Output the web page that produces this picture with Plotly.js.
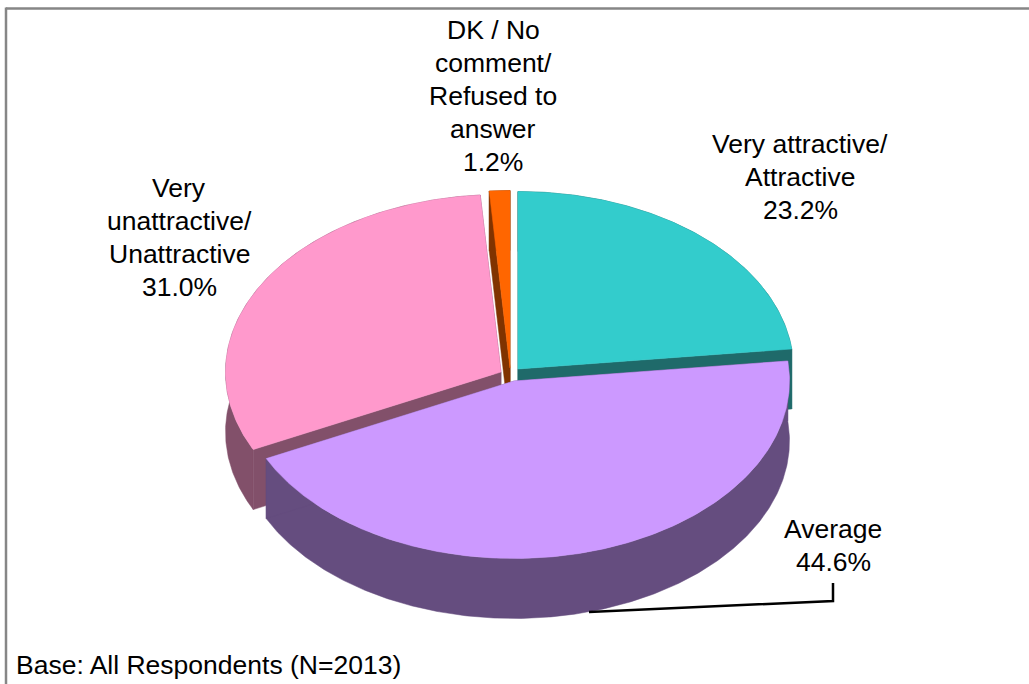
<!DOCTYPE html>
<html>
<head>
<meta charset="utf-8">
<script src="https://cdn.plot.ly/plotly-3.0.1.min.js"></script>
<style>html,body{margin:0;padding:0;background:#fff;overflow:hidden}#chart{width:1029px;height:684px}</style>
</head>
<body>
<div id="chart"></div>
<script>
// Data, clockwise from 12 o'clock
var categories = ['Very attractive/<br>Attractive', 'Average', 'Very<br>unattractive/<br>Unattractive', 'DK / No<br>comment/<br>Refused to<br>answer'];
var shares = [23.2, 44.6, 31.0, 1.2];
var footnote = 'Base: All Respondents (N=2013)';

// Styling
var faceColors = ['#33CCCC', '#CC99FF', '#FF99CC', '#FF6600'];
var wallColors = ['#1F6A6A', '#654D7F', '#82506A', '#803300'];
var FONT = {family: '"Liberation Sans", Arial, sans-serif', size: 26.5, color: '#000'};
var LINE_STEP = 33;

// Projection of the tilted pie, in the pixel-scaled hidden axes
var pie = {cx: 510, cy: 372, rx: 275.5, ry: 177.5, depth: 60};
var explode = [[8, -3], [4, 9], [-9, 0], [0, -4]];
var labelPos = [[800, 177], [833, 545], [179, 237.5], [493, 96]];

function rim(i, deg, dy) {
  var t = deg * Math.PI / 180;
  return [pie.cx + explode[i][0] + pie.rx * Math.sin(t),
          pie.cy + explode[i][1] - pie.ry * Math.cos(t) + (dy || 0)];
}
function apex(i, dy) { return [pie.cx + explode[i][0], pie.cy + explode[i][1] + (dy || 0)]; }
function arc(i, a, b, dy) {
  var out = [], n = Math.max(2, Math.ceil((b - a) * 2));
  for (var k = 0; k <= n; k++) out.push(rim(i, a + (b - a) * k / n, dy));
  return out;
}
function poly(pts, color) {
  return {
    type: 'scatter', mode: 'lines', fill: 'toself', fillcolor: color,
    x: pts.map(function (p) { return p[0]; }).concat([pts[0][0]]),
    y: pts.map(function (p) { return p[1]; }).concat([pts[0][1]]),
    line: {color: color, width: 0.5}, hoverinfo: 'skip', showlegend: false
  };
}

var starts = [], run = 0;
shares.forEach(function (s) { starts.push(run); run += s; });
function a0(i) { return starts[i] / run * 360; }
function a1(i) { return (starts[i] + shares[i]) / run * 360; }

function walls(i) {
  var d = pie.depth, a = a0(i), b = a1(i), c = wallColors[i];
  return [
    poly(arc(i, a, b, 0).concat(arc(i, a, b, d).reverse()), c),
    poly([apex(i), rim(i, a), rim(i, a, d), apex(i, d)], c),
    poly([apex(i), rim(i, b), rim(i, b, d), apex(i, d)], c)
  ];
}
function face(i) { return poly([apex(i)].concat(arc(i, a0(i), a1(i), 0)), faceColors[i]); }

// Painter's order: back wedges first, the front purple wedge last
var traces = [].concat(
  walls(2), walls(0), walls(3),
  [face(2), face(0), face(3)],
  walls(1), [face(1)]
);

// One annotation per text line, to hold the reference's line pitch
var annotations = [];
categories.forEach(function (c, i) {
  var lines = c.split('<br>').concat([shares[i].toFixed(1) + '%']);
  lines.forEach(function (t, k) {
    annotations.push({
      xref: 'x', yref: 'y', x: labelPos[i][0],
      y: labelPos[i][1] + (k - (lines.length - 1) / 2) * LINE_STEP,
      text: t, showarrow: false, align: 'center', xanchor: 'center', yanchor: 'middle', font: FONT
    });
  });
});
annotations.push({
  xref: 'x', yref: 'y', x: 14, y: 665, text: footnote,
  showarrow: false, xanchor: 'left', yanchor: 'middle', font: FONT
});

var hidden = {visible: false, fixedrange: true, showgrid: false, zeroline: false};
Plotly.newPlot('chart', traces, {
  width: 1029, height: 684,
  margin: {l: 0, r: 0, t: 0, b: 0},
  paper_bgcolor: '#fff', plot_bgcolor: '#fff',
  showlegend: false,
  xaxis: Object.assign({range: [0, 1029]}, hidden),
  yaxis: Object.assign({range: [684, 0]}, hidden),
  annotations: annotations,
  shapes: [
    {type: 'line', xref: 'x', yref: 'y', x0: 6, y0: 8.5, x1: 1029, y1: 8.5, line: {color: '#868686', width: 2.5}},
    {type: 'line', xref: 'x', yref: 'y', x0: 6, y0: 7.5, x1: 6, y1: 684, line: {color: '#868686', width: 2.5}},
    {type: 'path', xref: 'x', yref: 'y', path: 'M 589 612 L 833 601 L 833 583', line: {color: '#000', width: 2.5}}
  ]
}, {displayModeBar: false, staticPlot: true});
</script>
</body>
</html>
